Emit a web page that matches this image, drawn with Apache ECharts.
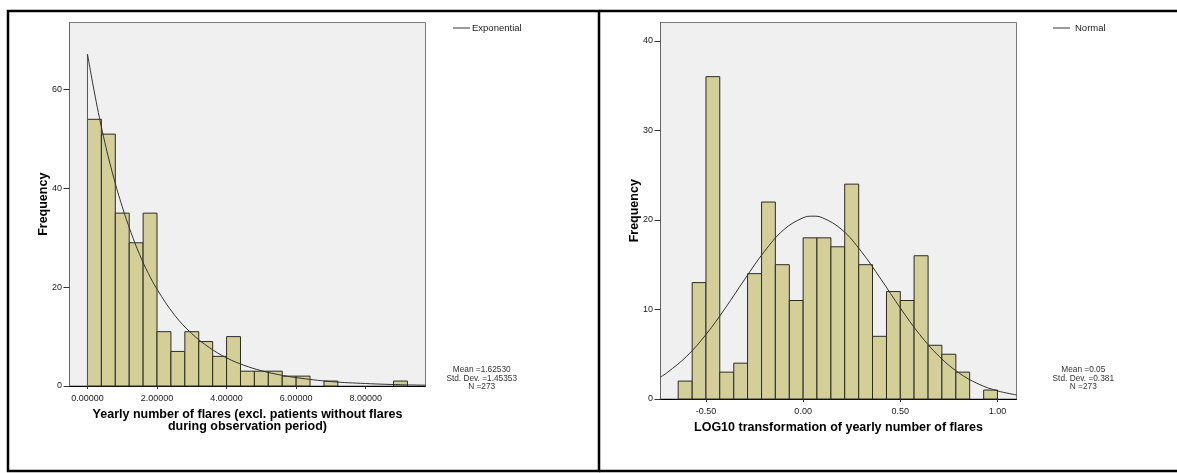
<!DOCTYPE html>
<html>
<head>
<meta charset="utf-8">
<script src="https://cdn.jsdelivr.net/npm/echarts@6/dist/echarts.min.js"></script>
<style>
html,body{margin:0;padding:0;background:#fff;}
#c{width:1177px;height:473px;}
</style>
</head>
<body>
<div id="c"></div>
<script>
// ---- Left histogram: yearly number of flares ----
const leftBinEdges = [0,0.4,0.8,1.2,1.6,2.0,2.4,2.8,3.2,3.6,4.0,4.4,4.8,5.2,5.6,6.0,6.4,6.8,7.2,7.6,8.0,8.4,8.8,9.2];
const leftCounts = [54,51,35,29,35,11,7,11,9,6,10,3,3,3,2,2,0,1,0,0,0,0,1];
const leftXTicks = [0,2,4,6,8];
const leftYTicks = [0,20,40,60];
// fitted exponential curve
const expX = [0,0.25,0.5,0.75,1.0,1.25,1.5,1.75,2.0,2.5,3.0,3.5,4.0,4.5,5.0,5.5,6.0,7.0,8.0,9.0,9.72];
const expY = [67.2,57.6,49.3,42.3,36.3,31.1,26.6,22.8,19.6,14.4,10.6,7.8,5.7,4.2,3.1,2.3,1.7,0.9,0.5,0.26,0.17];
const leftStats = ['Mean =1.62530','Std. Dev. =1.45353','N =273'];

// ---- Right histogram: LOG10 transformation ----
const rightBinEdges = [-0.643,-0.571,-0.500,-0.429,-0.357,-0.286,-0.214,-0.143,-0.071,0.000,0.071,0.143,0.214,0.286,0.357,0.429,0.500,0.571,0.643,0.714,0.786,0.857,0.929,1.000];
const rightCounts = [2,13,36,3,4,14,22,15,11,18,18,17,24,15,7,12,11,16,6,5,3,0,1];
const rightXTicks = [-0.5,0,0.5,1.0];
const rightYTicks = [0,10,20,30,40];
// fitted normal curve
const normX = [-0.734,-0.7,-0.6,-0.5,-0.4,-0.3,-0.2,-0.1,0.0,0.05,0.1,0.2,0.3,0.4,0.5,0.6,0.7,0.8,0.9,1.0,1.098];
const normY = [2.46,2.94,4.76,7.20,10.17,13.39,16.46,18.90,20.24,20.42,20.24,18.90,16.46,13.39,10.17,7.20,4.76,2.94,1.70,0.91,0.46];
const rightStats = ['Mean =0.05','Std. Dev. =0.381','N =273'];

const BAR_FILL = '#d4cf98';
const FONT = 'Liberation Sans, Arial, sans-serif';

function binData(edges, counts){
  const out = [];
  for (let i = 0; i < counts.length; i++) {
    if (counts[i] > 0) out.push([edges[i], edges[i+1], counts[i]]);
  }
  return out;
}
function renderBar(params, api){
  const x0 = api.value(0), x1 = api.value(1), c = api.value(2);
  const p0 = api.coord([x0, 0]);
  const p1 = api.coord([x1, c]);
  return {
    type: 'rect',
    shape: {x: p0[0], y: p1[1], width: p1[0]-p0[0], height: p0[1]-p1[1]},
    style: {fill: BAR_FILL, stroke: '#2a2a2a', lineWidth: 1}
  };
}
function pairs(xs, ys){ return xs.map((x,i)=>[x, ys[i]]); }

const axisLabelStyle = {fontFamily: FONT, fontSize: 9, color: '#1a1a1a'};
const nameStyle = {fontFamily: FONT, fontSize: 12.5, fontWeight: 'bold', color: '#000', lineHeight: 12};

function xAxisDef(grid, min, max, ticks, digits, name, gap){
  return {
    type: 'value', gridIndex: grid, min: min, max: max,
    splitLine: {show: false},
    axisLine: {show: true, onZero: false, lineStyle: {color: '#000', width: 1}},
    axisTick: {show: true, length: 3, customValues: ticks, lineStyle: {color: '#333'}},
    axisLabel: Object.assign({customValues: ticks, margin: 8, formatter: v => Number(v).toFixed(digits)}, axisLabelStyle),
    name: name, nameLocation: 'middle', nameGap: gap, nameMoveOverlap: false, nameTextStyle: nameStyle
  };
}
function yAxisDef(grid, max, ticks, gap){
  return {
    type: 'value', gridIndex: grid, min: 0, max: max,
    splitLine: {show: false},
    axisLine: {show: true, onZero: false, lineStyle: {color: '#666', width: 1}},
    axisTick: {show: true, length: 6, customValues: ticks, lineStyle: {color: '#333'}},
    axisLabel: Object.assign({customValues: ticks, margin: 7.5, formatter: v => String(Math.round(v))}, axisLabelStyle),
    name: 'Frequency', nameLocation: 'middle', nameRotate: 90, nameGap: gap, nameMoveOverlap: false, nameTextStyle: nameStyle
  };
}

function statsText(cx, lines){
  return lines.map((t, i) => ({
    type: 'text', x: cx, y: 366 + i*8.3,
    style: {text: t, fontFamily: FONT, fontSize: 8.3, fill: '#333', align: 'center', verticalAlign: 'top'}
  }));
}

const chart = echarts.init(document.getElementById('c'), null, {renderer: 'canvas'});
chart.setOption({
  backgroundColor: '#ffffff',
  animation: false,
  grid: [
    {left: 69.5, top: 22.5, width: 356, height: 363.5, show: true, backgroundColor: '#f0f0f0', borderColor: '#7a7a7a', borderWidth: 1},
    {left: 660.5, top: 22.5, width: 356, height: 376.5, show: true, backgroundColor: '#f0f0f0', borderColor: '#7a7a7a', borderWidth: 1}
  ],
  xAxis: [
    xAxisDef(0, -0.517, 9.72, leftXTicks, 5, 'Yearly number of flares (excl. patients without flares\nduring observation period)', 23),
    xAxisDef(1, -0.734, 1.098, rightXTicks, 2, 'LOG10 transformation of yearly number of flares', 23)
  ],
  yAxis: [
    yAxisDef(0, 73.6, leftYTicks, 20),
    yAxisDef(1, 42.05, rightYTicks, 20)
  ],
  legend: [
    {left: 453, top: 23, padding: 0, itemWidth: 17, itemHeight: 1, itemGap: 5,
     data: [{name: 'Exponential', icon: 'rect'}],
     textStyle: {fontFamily: FONT, fontSize: 9.5, color: '#222', padding: [0,0,0,-3]}},
    {left: 1053, top: 23, padding: 0, itemWidth: 17, itemHeight: 1, itemGap: 5,
     data: [{name: 'Normal', icon: 'rect'}],
     textStyle: {fontFamily: FONT, fontSize: 9.5, color: '#222', padding: [0,0,0,0]}}
  ],
  series: [
    {type: 'custom', name: 'leftBars', xAxisIndex: 0, yAxisIndex: 0, renderItem: renderBar,
     encode: {x: [0,1], y: 2}, data: binData(leftBinEdges, leftCounts)},
    {type: 'line', name: 'expStart', xAxisIndex: 0, yAxisIndex: 0, showSymbol: false, symbol: 'none',
     lineStyle: {color: '#555', width: 1}, itemStyle: {color: '#555'},
     data: [[expX[0], 0], [expX[0], expY[0]]]},
    {type: 'line', name: 'Exponential', xAxisIndex: 0, yAxisIndex: 0, showSymbol: false, symbol: 'none', smooth: 0.4,
     lineStyle: {color: '#333', width: 1}, itemStyle: {color: '#333'},
     data: pairs(expX, expY)},
    {type: 'custom', name: 'rightBars', xAxisIndex: 1, yAxisIndex: 1, renderItem: renderBar,
     encode: {x: [0,1], y: 2}, data: binData(rightBinEdges, rightCounts)},
    {type: 'line', name: 'Normal', xAxisIndex: 1, yAxisIndex: 1, showSymbol: false, symbol: 'none', smooth: 0.4,
     lineStyle: {color: '#333', width: 1}, itemStyle: {color: '#333'},
     data: pairs(normX, normY)}
  ],
  graphic: [
    {type: 'rect', shape: {x: 8, y: 11, width: 591, height: 460}, style: {fill: 'none', stroke: '#000', lineWidth: 2.5}, z: 100},
    {type: 'line', shape: {x1: 599, y1: 11, x2: 1177, y2: 11}, style: {stroke: '#000', lineWidth: 2.5}, z: 100},
    {type: 'line', shape: {x1: 599, y1: 471, x2: 1177, y2: 471}, style: {stroke: '#000', lineWidth: 2.5}, z: 100}
  ].concat(statsText(481.7, leftStats)).concat(statsText(1083.3, rightStats))
});
</script>
</body>
</html>
